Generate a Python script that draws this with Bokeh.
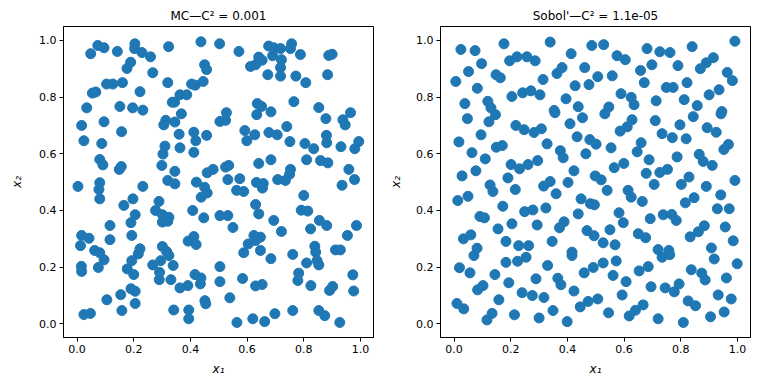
from bokeh.plotting import figure
from bokeh.layouts import row
from bokeh.models import Range1d, FixedTicker, PrintfTickFormatter, ColumnDataSource
from bokeh.embed import file_html
from bokeh.resources import INLINE

# ---------------- data ----------------
mc_x1 = [0.073, 0.095, 0.048, 0.142, 0.204, 0.203, 0.229, 0.259, 0.323, 0.437,
         0.503, 0.189, 0.176, 0.267, 0.450, 0.457, 0.104, 0.126, 0.160, 0.320,
         0.404, 0.417, 0.445, 0.054, 0.066, 0.222, 0.363, 0.387, 0.336, 0.344,
         0.034, 0.151, 0.196, 0.232, 0.368, 0.016, 0.095, 0.313, 0.306, 0.345,
         0.504, 0.524, 0.157, 0.360, 0.412, 0.419, 0.457, 0.024, 0.087, 0.310,
         0.303, 0.363, 0.412, 0.080, 0.091, 0.149, 0.156, 0.299, 0.345, 0.459,
         0.480,
         0.571, 0.676, 0.694, 0.718, 0.757, 0.753, 0.690, 0.641, 0.653, 0.612,
         0.630, 0.721, 0.788, 0.888, 0.900, 0.718, 0.718, 0.673, 0.772, 0.807,
         0.884, 0.765, 0.636, 0.651, 0.634, 0.684, 0.853, 0.878, 0.938, 0.946,
         0.965, 0.527, 0.592, 0.599, 0.627, 0.677, 0.706, 0.740, 0.751, 0.804,
         0.835, 0.880, 0.881, 0.931, 0.980, 0.994, 0.641, 0.684, 0.810, 0.859,
         0.885, 0.959, 0.524, 0.535, 0.753, 0.750, 0.532, 0.574, 0.633, 0.657,
         0.708, 0.735, 0.935, 0.979,
         0.654, 0.563, 0.588, 0.800, 0.630, 0.641, 0.504, 0.532, 0.550, 0.694,
         0.721, 0.791, 0.814, 0.855, 0.881, 0.824, 0.986, 0.954, 0.624, 0.647,
         0.630, 0.604, 0.588, 0.647, 0.684, 0.761, 0.839, 0.842, 0.847, 0.853,
         0.810, 0.912, 0.929, 0.504, 0.504, 0.584, 0.630, 0.653, 0.782, 0.779,
         0.825, 0.891, 0.902, 0.973, 0.976, 0.539, 0.698, 0.761, 0.853, 0.874,
         0.564, 0.620, 0.662, 0.927,
         0.003, 0.080, 0.077, 0.080, 0.232, 0.320, 0.345, 0.421, 0.450, 0.459,
         0.438, 0.197, 0.165, 0.289, 0.277, 0.301, 0.324, 0.301, 0.320, 0.408,
         0.447, 0.205, 0.190, 0.116, 0.193, 0.116, 0.016, 0.042, 0.012, 0.062,
         0.080, 0.095, 0.222, 0.216, 0.193, 0.301, 0.316, 0.324, 0.295, 0.267,
         0.339, 0.392, 0.412, 0.420, 0.015, 0.016, 0.075, 0.177, 0.200, 0.291,
         0.290, 0.331, 0.363, 0.391, 0.416, 0.437, 0.435, 0.190, 0.205, 0.154,
         0.105, 0.205, 0.158, 0.451, 0.454, 0.341, 0.394, 0.394, 0.024, 0.047]

mc_x2 = [0.982, 0.974, 0.953, 0.961, 0.988, 0.971, 0.957, 0.942, 0.978, 0.995,
         0.988, 0.923, 0.901, 0.886, 0.914, 0.897, 0.846, 0.846, 0.851, 0.851,
         0.846, 0.842, 0.855, 0.814, 0.818, 0.819, 0.808, 0.808, 0.782, 0.782,
         0.762, 0.767, 0.762, 0.754, 0.741, 0.700, 0.713, 0.718, 0.702, 0.712,
         0.714, 0.718, 0.678, 0.669, 0.676, 0.646, 0.665, 0.646, 0.636, 0.627,
         0.599, 0.621, 0.605, 0.580, 0.561, 0.545, 0.555, 0.559, 0.538, 0.533,
         0.545,
         0.961, 0.980, 0.974, 0.971, 0.988, 0.971, 0.946, 0.941, 0.930, 0.908,
         0.914, 0.932, 0.950, 0.947, 0.951, 0.904, 0.874, 0.879, 0.874, 0.851,
         0.879, 0.784, 0.777, 0.767, 0.738, 0.748, 0.763, 0.724, 0.720, 0.702,
         0.745, 0.745, 0.682, 0.646, 0.667, 0.675, 0.667, 0.696, 0.643, 0.636,
         0.618, 0.665, 0.639, 0.625, 0.618, 0.643, 0.566, 0.579, 0.579, 0.576,
         0.568, 0.545, 0.553, 0.559, 0.545, 0.528, 0.509, 0.512, 0.499, 0.495,
         0.509, 0.506, 0.489, 0.509,
         0.479, 0.471, 0.467, 0.453, 0.421, 0.388, 0.382, 0.382, 0.340, 0.365,
         0.326, 0.401, 0.398, 0.365, 0.347, 0.335, 0.347, 0.312, 0.312, 0.306,
         0.294, 0.282, 0.251, 0.259, 0.230, 0.245, 0.274, 0.253, 0.223, 0.208,
         0.215, 0.261, 0.261, 0.202, 0.149, 0.160, 0.134, 0.139, 0.179, 0.153,
         0.135, 0.118, 0.132, 0.173, 0.116, 0.092, 0.036, 0.047, 0.047, 0.029,
         0.005, 0.018, 0.008, 0.005,
         0.485, 0.498, 0.474, 0.441, 0.485, 0.506, 0.494, 0.500, 0.482, 0.462,
         0.447, 0.441, 0.418, 0.432, 0.400, 0.385, 0.376, 0.359, 0.362, 0.400,
         0.374, 0.385, 0.357, 0.347, 0.312, 0.297, 0.312, 0.302, 0.276, 0.259,
         0.251, 0.226, 0.265, 0.247, 0.223, 0.273, 0.255, 0.241, 0.223, 0.208,
         0.206, 0.292, 0.308, 0.280, 0.203, 0.185, 0.199, 0.194, 0.174, 0.182,
         0.156, 0.156, 0.127, 0.135, 0.174, 0.162, 0.141, 0.124, 0.115, 0.103,
         0.085, 0.072, 0.047, 0.082, 0.071, 0.049, 0.049, 0.018, 0.033, 0.037]

sobol_x1 = [0.024, 0.074, 0.176, 0.339, 0.486, 0.413, 0.196, 0.222, 0.257, 0.286,
            0.097, 0.051, 0.006, 0.148, 0.163, 0.082, 0.314, 0.363, 0.381, 0.461,
            0.507, 0.427, 0.476, 0.204, 0.242, 0.271, 0.303, 0.395, 0.038, 0.119,
            0.130, 0.146, 0.438, 0.353, 0.356, 0.047, 0.123, 0.453, 0.409, 0.218,
            0.247, 0.282, 0.308, 0.095, 0.434, 0.017, 0.328, 0.479, 0.501, 0.149,
            0.170, 0.063, 0.375, 0.385, 0.465, 0.110, 0.201, 0.231, 0.261, 0.295,
            0.423, 0.077, 0.028, 0.190, 0.498, 0.127, 0.316, 0.339, 0.402,
            0.137, 0.216, 0.360, 0.013, 0.049, 0.172, 0.091, 0.107, 0.155, 0.204,
            0.249, 0.278, 0.324, 0.293, 0.372, 0.388, 0.438, 0.448, 0.481, 0.495,
            0.469, 0.494, 0.033, 0.059, 0.081, 0.070, 0.183, 0.228, 0.263, 0.346,
            0.416, 0.416, 0.224, 0.254, 0.183, 0.019, 0.056, 0.144, 0.330, 0.459,
            0.491, 0.289, 0.366, 0.377, 0.193, 0.083, 0.102, 0.240, 0.276, 0.317,
            0.423, 0.158, 0.010, 0.034, 0.116, 0.134, 0.213, 0.300, 0.349, 0.399,
            0.445, 0.473, 0.507,
            0.528, 0.681, 0.726, 0.762, 0.840, 0.991, 0.575, 0.604, 0.698, 0.658,
            0.790, 0.869, 0.890, 0.915, 0.964, 0.982, 0.558, 0.671, 0.749, 0.773,
            0.822, 0.935, 0.900, 0.589, 0.625, 0.635, 0.713, 0.812, 0.858, 0.546,
            0.532, 0.945, 0.942, 0.844, 0.710, 0.628, 0.611, 0.586, 0.797, 0.893,
            0.925, 0.734, 0.770, 0.819, 0.554, 0.660, 0.646, 0.688, 0.787, 0.865,
            0.879, 0.911, 0.952, 0.968, 0.599, 0.565, 0.519, 0.678, 0.726, 0.753,
            0.829, 0.706, 0.802, 0.890, 0.991,
            0.540, 0.614, 0.625, 0.664, 0.816, 0.847, 0.941, 0.929, 0.971, 0.582,
            0.597, 0.692, 0.738, 0.768, 0.784, 0.833, 0.862, 0.883, 0.957, 0.985,
            0.550, 0.526, 0.568, 0.650, 0.676, 0.720, 0.734, 0.758, 0.761, 0.908,
            0.918, 0.999, 0.526, 0.572, 0.561, 0.653, 0.685, 0.837, 0.874, 0.886,
            0.961, 0.607, 0.695, 0.745, 0.777, 0.794, 0.593, 0.932, 0.978, 0.826,
            0.852, 0.667, 0.640, 0.618, 0.545, 0.720, 0.809, 0.905, 0.953]

sobol_x2 = [0.968, 0.964, 0.988, 0.994, 0.982, 0.953, 0.928, 0.942, 0.942, 0.928,
            0.918, 0.890, 0.855, 0.879, 0.868, 0.831, 0.862, 0.883, 0.904, 0.904,
            0.872, 0.840, 0.844, 0.802, 0.815, 0.822, 0.808, 0.794, 0.777, 0.785,
            0.762, 0.738, 0.766, 0.753, 0.745, 0.724, 0.713, 0.727, 0.706, 0.700,
            0.685, 0.675, 0.688, 0.667, 0.660, 0.642, 0.635, 0.650, 0.634, 0.623,
            0.629, 0.604, 0.611, 0.586, 0.600, 0.582, 0.562, 0.547, 0.562, 0.576,
            0.540, 0.540, 0.522, 0.515, 0.522, 0.490, 0.486, 0.502, 0.499,
            0.467, 0.474, 0.459, 0.435, 0.450, 0.415, 0.379, 0.374, 0.335, 0.353,
            0.396, 0.402, 0.409, 0.349, 0.339, 0.360, 0.388, 0.441, 0.424, 0.420,
            0.329, 0.311, 0.300, 0.314, 0.267, 0.241, 0.291, 0.276, 0.276, 0.291,
            0.253, 0.241, 0.221, 0.235, 0.217, 0.198, 0.180, 0.174, 0.206, 0.180,
            0.199, 0.159, 0.161, 0.138, 0.145, 0.120, 0.135, 0.110, 0.100, 0.093,
            0.116, 0.085, 0.072, 0.053, 0.014, 0.037, 0.032, 0.021, 0.047, 0.008,
            0.060, 0.079, 0.088,
            0.985, 0.971, 0.960, 0.957, 0.978, 0.997, 0.946, 0.932, 0.914, 0.894,
            0.911, 0.900, 0.921, 0.939, 0.887, 0.858, 0.875, 0.851, 0.834, 0.834,
            0.851, 0.826, 0.808, 0.812, 0.799, 0.773, 0.787, 0.791, 0.770, 0.765,
            0.741, 0.749, 0.741, 0.731, 0.717, 0.720, 0.695, 0.680, 0.702, 0.692,
            0.676, 0.671, 0.657, 0.653, 0.621, 0.639, 0.607, 0.579, 0.589, 0.598,
            0.573, 0.559, 0.615, 0.633, 0.566, 0.551, 0.508, 0.531, 0.534, 0.545,
            0.518, 0.492, 0.492, 0.485, 0.506,
            0.471, 0.471, 0.447, 0.432, 0.427, 0.445, 0.455, 0.406, 0.406, 0.392,
            0.357, 0.371, 0.385, 0.386, 0.365, 0.307, 0.325, 0.346, 0.342, 0.293,
            0.332, 0.286, 0.279, 0.318, 0.304, 0.262, 0.235, 0.259, 0.244, 0.268,
            0.229, 0.212, 0.215, 0.222, 0.171, 0.187, 0.202, 0.191, 0.179, 0.155,
            0.162, 0.149, 0.131, 0.127, 0.113, 0.141, 0.102, 0.102, 0.088, 0.081,
            0.064, 0.067, 0.048, 0.028, 0.039, 0.018, 0.005, 0.025, 0.042]

tick_values = [0.0, 0.2, 0.4, 0.6, 0.8, 1.0]
titles = ["MC\u2014C\u00b2 = 0.001", "Sobol'\u2014C\u00b2 = 1.1e-05"]
x_label = "x\u2081"
y_label = "x\u2082"

COLOR = "#1f77b4"
FONT = "DejaVu Sans"


def make_panel(xs, ys, title, border_left, border_right, border_top, ylabel_standoff):
    p = figure(frame_width=310, frame_height=311,
               x_range=Range1d(-0.048, 1.046), y_range=Range1d(-0.048, 1.049),
               output_backend="svg", toolbar_location=None,
               min_border_left=border_left, min_border_right=border_right,
               min_border_top=border_top, min_border_bottom=40)
    p.title.text = title
    p.title.align = "center"
    p.title.text_font = FONT
    p.title.text_font_size = "12px"
    p.title.text_font_style = "normal"
    p.title.text_color = "black"
    p.title.standoff = 8
    src = ColumnDataSource(dict(x=xs, y=ys))
    p.scatter("x", "y", source=src, size=10, fill_color=COLOR, line_color=COLOR)
    p.xgrid.visible = False
    p.ygrid.visible = False
    p.outline_line_color = "black"
    p.outline_line_width = 1
    p.outline_line_alpha = 1
    for ax in (p.xaxis[0], p.yaxis[0]):
        ax.ticker = FixedTicker(ticks=tick_values)
        ax.formatter = PrintfTickFormatter(format="%.1f")
        ax.minor_tick_line_color = None
        ax.major_tick_in = 0
        ax.major_tick_out = 4
        ax.major_tick_line_color = "black"
        ax.axis_line_color = "black"
        ax.major_label_text_font = FONT
        ax.major_label_text_font_size = "11px"
        ax.major_label_text_color = "black"
        ax.major_label_standoff = 3
        ax.axis_label_text_font = FONT
        ax.axis_label_text_font_size = "12px"
        ax.axis_label_text_font_style = "italic"
        ax.axis_label_text_color = "black"
    p.xaxis[0].axis_label_standoff = 6
    p.yaxis[0].axis_label_standoff = ylabel_standoff
    p.xaxis.axis_label = x_label
    p.yaxis.axis_label = y_label
    return p


p1 = make_panel(mc_x1, mc_x2, titles[0], 63, 11, 26, 12)
p2 = make_panel(sobol_x1, sobol_x2, titles[1], 56, 10, 26, 10)
layout = row(p1, p2)

open("out.html", "w").write(file_html(layout, INLINE))
